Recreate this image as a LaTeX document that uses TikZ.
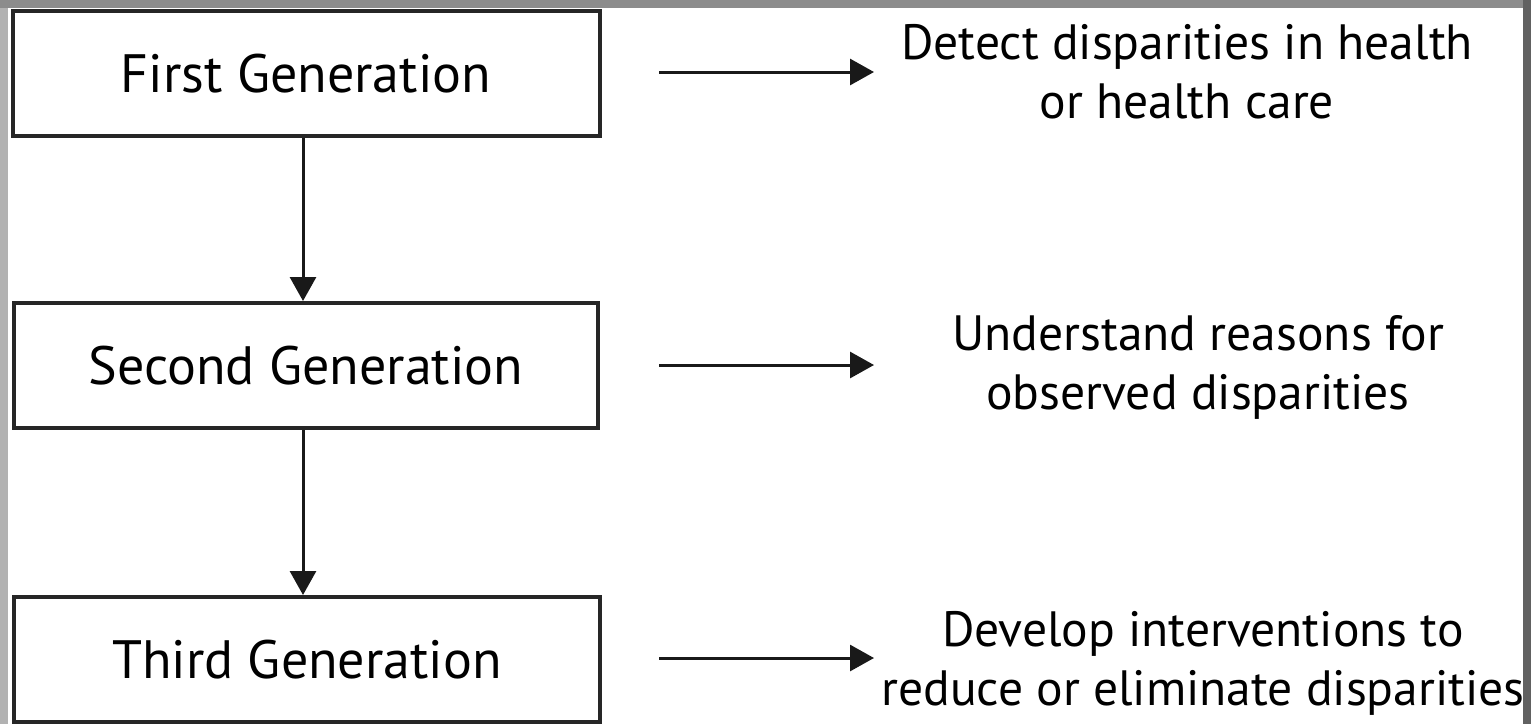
\documentclass[tikz,border=0pt]{standalone}
\usepackage{fontspec}
\setmainfont{PT Sans}
\usetikzlibrary{arrows.meta}
\begin{document}
\begin{tikzpicture}[x=0.5pt,y=-0.5pt,
  box/.style={draw=black!85, line width=2pt, fill=white, inner sep=0pt, font=\fontsize{27}{31}\selectfont},
  lbl/.style={align=center, inner sep=0pt, font=\fontsize{24.8}{29.5}\selectfont},
  arr/.style={draw=black!90, line width=1.5pt, -{Triangle[length=12pt,width=13pt]}}]
\useasboundingbox (0,0) rectangle (1531,724);
% frame
\fill[black!62] (0,0) rectangle (1531,724);
\fill[black!30] (0,8) rectangle (8,724);
\fill[black!45] (0,0) rectangle (1531,8);
\fill[black!62] (1523,0) rectangle (1531,724);
\fill[white] (8,8) rectangle (1523,724);
% boxes
\node[box, minimum width=293.5pt, minimum height=62.5pt] (b1) at (306,73.5) {First Generation};
\node[box, minimum width=292pt, minimum height=62.5pt] (b2) at (306,365.5) {Second Generation};
\node[box, minimum width=293pt, minimum height=62.5pt] (b3) at (307,659.5) {Third Generation};
% texts
\node[lbl] (t1) at (1187,72) {Detect disparities in health\\or health care};
\node[lbl] (t2) at (1198,367) {Understand reasons for\\observed disparities};
\node[lbl] (t3) at (1203,663) {Develop interventions to\\reduce or eliminate disparities};
% arrow ends
\coordinate (s1) at (659,72);  \coordinate (e1) at (874,72);
\coordinate (s2) at (659,365); \coordinate (e2) at (874,365);
\coordinate (s3) at (659,658); \coordinate (e3) at (874,658);
\draw[arr] (s1) -- (e1);
\draw[arr] (s2) -- (e2);
\draw[arr] (s3) -- (e3);
\draw[arr] ([xshift=-1.5pt]b1.south) -- ([xshift=-1.5pt]b2.north);
\draw[arr] ([xshift=-1.5pt]b2.south) -- ([xshift=-2pt]b3.north);
\end{tikzpicture}
\end{document}
